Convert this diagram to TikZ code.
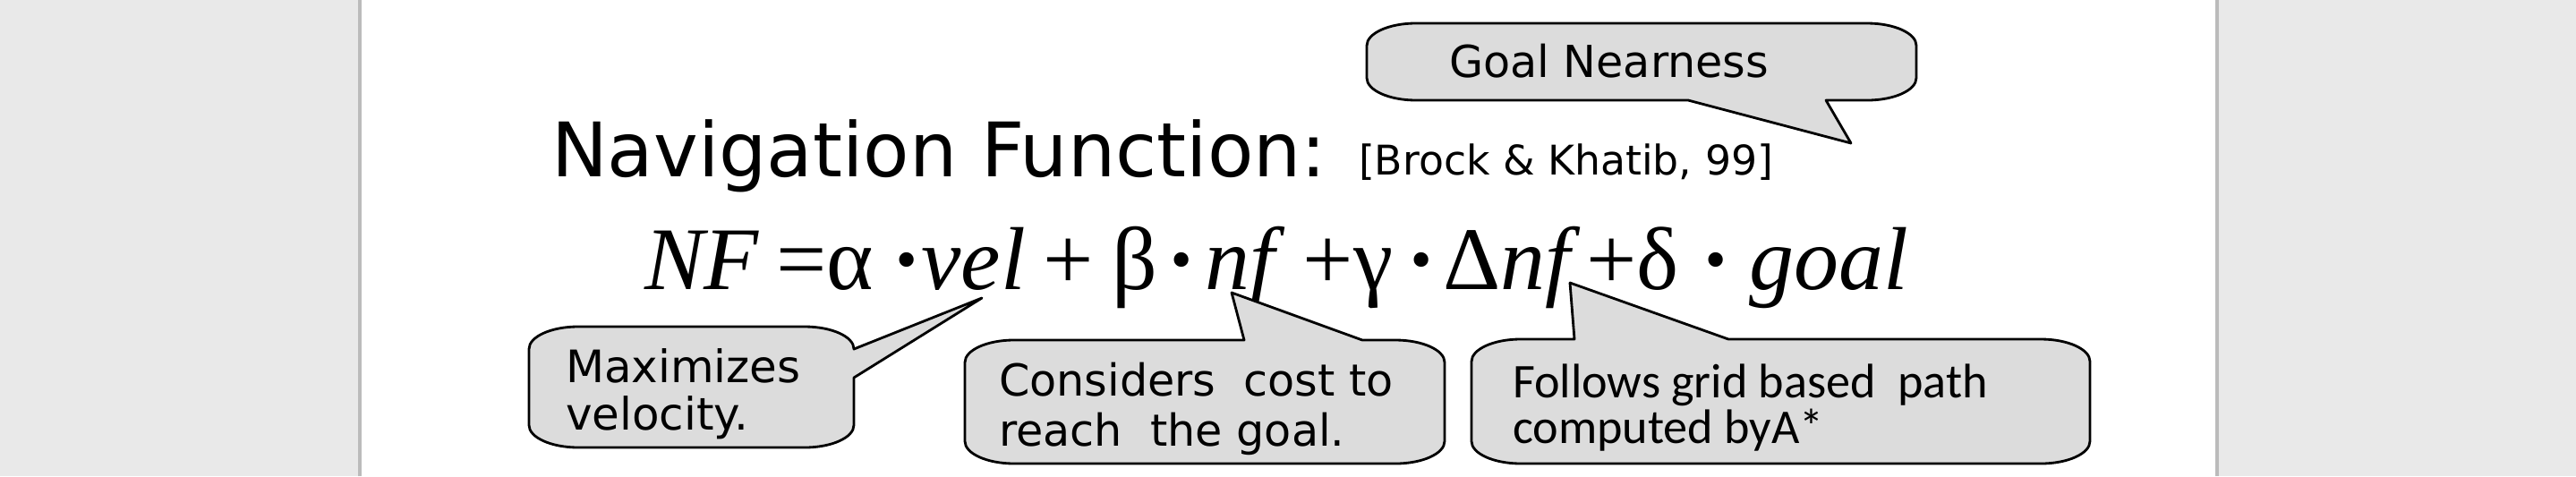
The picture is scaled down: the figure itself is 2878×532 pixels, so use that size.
\documentclass[tikz,border=0pt]{standalone}
\usepackage{fontspec}
\newfontfamily\calloutfont{DejaVu Sans}
\newfontfamily\notefont{Carlito}
\newfontfamily\formulafont{Liberation Serif}
\definecolor{bubblegray}{HTML}{DCDCDC}
\definecolor{pagegray}{HTML}{E9E9E9}
\definecolor{edgegray}{HTML}{BBBBBB}
\newcommand{\cdt}{{\bfseries ·}}
\tikzset{
  bubble/.style={draw=black, fill=bubblegray, line width=0.8pt, line join=round},
  roundcorner/.style={x radius=.55cm, y radius=.25cm},
  txt/.style={anchor=base west, inner sep=0pt, outer sep=0pt},
}
\begin{document}
\begin{tikzpicture}[x=0.01cm,y=0.01cm]
        \useasboundingbox (0,0) rectangle (2878,532);
        % page and margins
        \fill[pagegray] (0,0) rectangle (2878,532);
        \fill[white] (403,0) rectangle (2476,532);
        \draw[edgegray, line width=1.2pt] (402,0) -- (402,532);
        \draw[edgegray, line width=1.2pt] (2477,0) -- (2477,532);
        % title and formula
        \node[txt] (title) at (616,335) {\calloutfont\fontsize{23.9}{26}\selectfont Navigation Function:};
        \node[txt] (cite) at (1518,337) {\calloutfont\fontsize{13}{15}\selectfont [Brock \& Khatib, 99]};
        \node[txt] (nf) at (720,209) {\formulafont\fontsize{28.4}{30}\selectfont
          {\itshape NF}\kern.2em=α\kern.2em\cdt{\itshape vel}\kern.2em+\kern.2em β\kern.1em\cdt\kern.1em{\itshape nf}\kern.32em+γ\kern.15em\cdt\kern.08em Δ{\itshape nf}\kern.18em+δ\kern.25em\cdt\kern.2em{\itshape goal}};
        % tips of the callouts
        \coordinate (goaltip) at (2068,372);
        \coordinate (veltip) at (1097,199);
        \coordinate (nftip) at (1376,205);
        \coordinate (dnftip) at (1754,216);
        % goal nearness
        \draw[bubble] (1582,506) -- (2086,506) arc[roundcorner,start angle=90,end angle=0] -- (2141,445)
          arc[roundcorner,start angle=0,end angle=-90] -- (2040,420) -- (goaltip) -- (1886,420) -- (1582,420)
          arc[roundcorner,start angle=270,end angle=180] -- (1527,481) arc[roundcorner,start angle=180,end angle=90] -- cycle;
        \node[txt] (goal) at (1619,446) {\calloutfont\fontsize{14}{16}\selectfont Goal Nearness};
        % velocity
        \draw[bubble] (646,167) -- (899,167) arc[roundcorner,start angle=90,end angle=0] -- (veltip) -- (954,110) -- (954,57)
          arc[roundcorner,start angle=0,end angle=-90] -- (646,32)
          arc[roundcorner,start angle=270,end angle=180] -- (591,142) arc[roundcorner,start angle=180,end angle=90] -- cycle;
        \node[txt] (velA) at (632,105) {\calloutfont\fontsize{14.2}{16}\selectfont Maximizes};
        \node[txt] (velB) at (632,52) {\calloutfont\fontsize{14.2}{16}\selectfont velocity.};
        % cost to goal
        \draw[bubble] (1133,152) -- (1390,152) -- (nftip) -- (1522,152) -- (1559,152) arc[roundcorner,start angle=90,end angle=0] -- (1614,39)
          arc[roundcorner,start angle=0,end angle=-90] -- (1133,14)
          arc[roundcorner,start angle=270,end angle=180] -- (1078,127) arc[roundcorner,start angle=180,end angle=90] -- cycle;
        \node[txt] (costA) at (1116,90) {\calloutfont\fontsize{14}{16}\selectfont Considers\ \ cost to};
        \node[txt] (costB) at (1116,34) {\calloutfont\fontsize{14}{16}\selectfont reach\ \ the goal.};
        % grid path
        \draw[bubble] (1699,153) -- (1759,153) -- (dnftip) -- (1931,153) -- (2280,153) arc[roundcorner,start angle=90,end angle=0] -- (2335,39)
          arc[roundcorner,start angle=0,end angle=-90] -- (1699,14)
          arc[roundcorner,start angle=270,end angle=180] -- (1644,128) arc[roundcorner,start angle=180,end angle=90] -- cycle;
        \node[txt] (gridA) at (1690,88) {\notefont\fontsize{15.4}{17}\selectfont Follows grid based\ \ path};
        \node[txt] (gridB) at (1690,37) {\notefont\fontsize{15.4}{17}\selectfont computed byA*};
\end{tikzpicture}
\end{document}
